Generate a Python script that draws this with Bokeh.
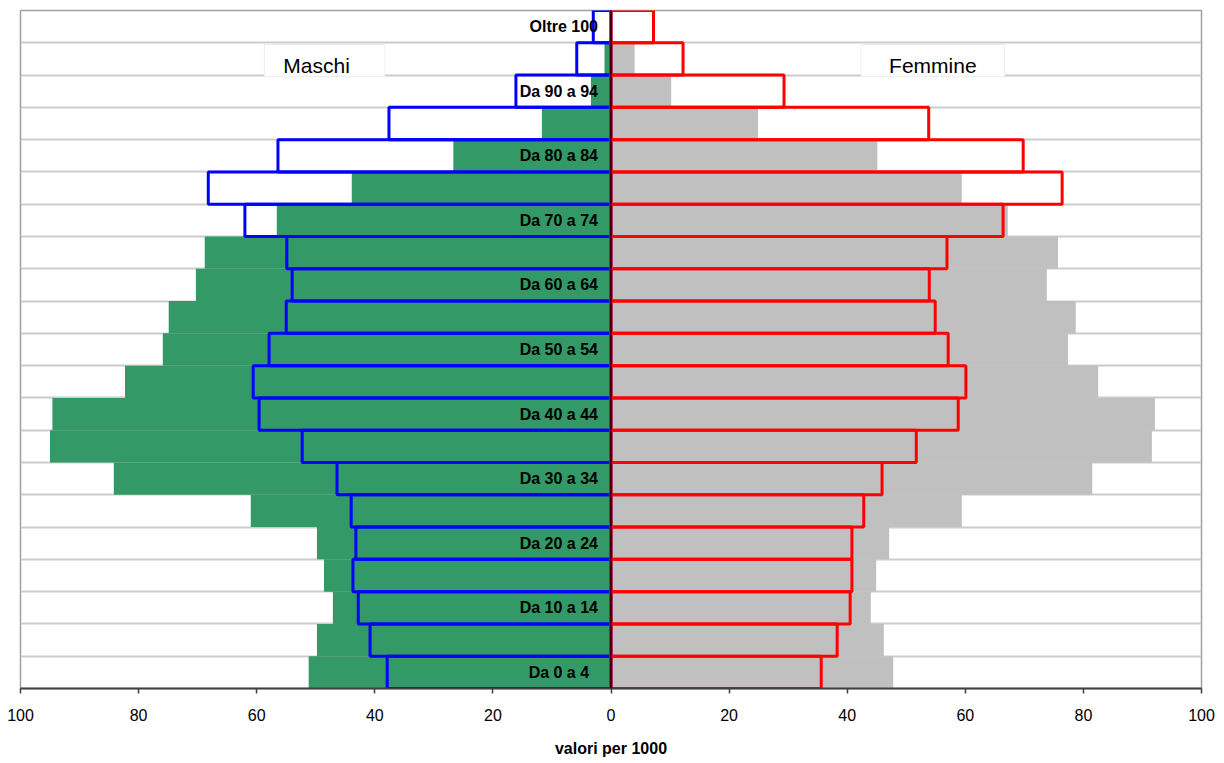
from bokeh.plotting import figure
from bokeh.models import FixedTicker, Label, Span, ColumnDataSource
from bokeh.core.properties import value
from bokeh.embed import file_html
from bokeh.resources import INLINE

# Age groups, bottom to top
age_groups = ["Da  0 a  4", "Da  5 a  9", "Da 10 a 14", "Da 15 a 19", "Da 20 a 24",
              "Da 25 a 29", "Da 30 a 34", "Da 35 a 39", "Da 40 a 44", "Da 45 a 49",
              "Da 50 a 54", "Da 55 a 59", "Da 60 a 64", "Da 65 a 69", "Da 70 a 74",
              "Da 75 a 79", "Da 80 a 84", "Da 85 a 89", "Da 90 a 94", "Da 95 a 99",
              "Oltre 100"]

# values per 1000 (filled bars)
maschi_filled = [51.2, 49.8, 47.1, 48.6, 49.8, 61.0, 84.2, 95.0, 94.6, 82.3,
                 75.9, 74.9, 70.3, 68.8, 56.6, 43.9, 26.7, 11.7, 3.4, 1.1, 0.2]
femmine_filled = [47.8, 46.2, 44.0, 44.9, 47.1, 59.4, 81.5, 91.6, 92.1, 82.5,
                  77.4, 78.7, 73.8, 75.7, 67.2, 59.4, 45.1, 24.9, 10.2, 4.0, 0.1]

# values per 1000 (outlined bars)
maschi_outline = [37.9, 40.8, 42.8, 43.7, 43.2, 44.0, 46.4, 52.3, 59.6, 60.6,
                  57.9, 55.0, 54.0, 54.9, 62.0, 68.2, 56.4, 37.6, 16.1, 5.8, 3.0]
femmine_outline = [35.6, 38.3, 40.5, 40.8, 40.8, 42.8, 45.9, 51.7, 58.8, 60.1,
                   57.1, 54.9, 53.9, 56.9, 66.4, 76.4, 69.8, 53.8, 29.3, 12.2, 7.2]

x_ticks = [-100, -80, -60, -40, -20, 0, 20, 40, 60, 80, 100]
x_tick_labels = ["100", "80", "60", "40", "20", "0", "20", "40", "60", "80", "100"]

n = len(age_groups)
ypos = list(range(n))

p = figure(width=1220, height=760, x_range=(-100, 100), y_range=(-0.5, n - 0.5),
           output_backend="svg", toolbar_location=None,
           min_border_left=20, min_border_right=19, min_border_top=10, min_border_bottom=72)
p.background_fill_color = "white"
p.border_fill_color = "white"
p.outline_line_color = "#a0a0a0"
p.outline_line_width = 1.5

src = ColumnDataSource(dict(
    y=ypos,
    m_fill=[-v for v in maschi_filled],
    f_fill=femmine_filled,
    m_out=[-v for v in maschi_outline],
    f_out=femmine_outline,
))

p.hbar(y="y", left="m_fill", right=0, height=1, source=src,
       fill_color="#339966", line_color=None)
p.hbar(y="y", left=0, right="f_fill", height=1, source=src,
       fill_color="#c0c0c0", line_color=None)
p.hbar(y="y", left="m_out", right=0, height=1, source=src,
       fill_color=None, line_color="#0000ff", line_width=3)
p.hbar(y="y", left=0, right="f_out", height=1, source=src,
       fill_color=None, line_color="#ff0000", line_width=3)

p.add_layout(Span(location=0, dimension="height", line_color="black", line_width=1.5))

lab_src = ColumnDataSource(dict(
    y=ypos[::2],
    text=age_groups[::2],
))
p.text(x=0, y="y", text="text", source=lab_src, x_offset=-13,
       text_align="right", text_baseline="middle",
       text_font=value("Liberation Sans"), text_font_style="bold",
       text_font_size="16px", text_color="black")

p.add_layout(Label(x=-48.5, y=18.95, text="Maschi", text_align="center", text_baseline="middle",
                   text_font="Liberation Sans", text_font_size="21px", text_color="black",
                   background_fill_color="white", border_line_color="#eeeeee",
                   padding=dict(left=19, right=35, top=9, bottom=0)))
p.add_layout(Label(x=54.5, y=18.95, text="Femmine", text_align="center", text_baseline="middle",
                   text_font="Liberation Sans", text_font_size="21px", text_color="black",
                   background_fill_color="white", border_line_color="#eeeeee",
                   padding=dict(left=28, right=28, top=9, bottom=0)))

p.xgrid.visible = False
p.ygrid.ticker = FixedTicker(ticks=[i + 0.5 for i in range(n - 1)])
p.ygrid.grid_line_color = "#cccccc"
p.ygrid.grid_line_width = 2

p.yaxis.visible = False
xa = p.xaxis[0]
xa.ticker = FixedTicker(ticks=x_ticks)
xa.major_label_overrides = {t: l for t, l in zip(x_ticks, x_tick_labels)}
xa.minor_tick_line_color = None
xa.major_tick_in = 0
xa.major_tick_out = 5
xa.axis_line_color = "#404040"
xa.axis_line_width = 2
xa.major_tick_line_color = "#404040"
xa.major_tick_line_width = 1.5
xa.major_label_standoff = 15
xa.major_label_text_font = "Liberation Sans"
xa.major_label_text_font_size = "16px"
xa.major_label_text_color = "black"
xa.axis_label = "valori per 1000"
xa.axis_label_text_font = "Liberation Sans"
xa.axis_label_text_font_style = "bold"
xa.axis_label_text_font_size = "16px"
xa.axis_label_text_color = "black"
xa.axis_label_standoff = 16

open("out.html", "w").write(file_html(p, INLINE))
